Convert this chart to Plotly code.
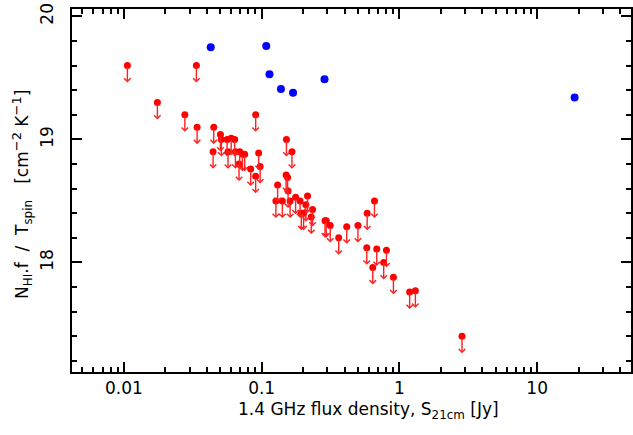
import numpy as np
import plotly.graph_objects as go

# Detections (blue)
det_flux = [0.0427, 0.108, 0.114, 0.138, 0.169, 0.286, 18.7]
det_nhi = [19.75, 19.76, 19.53, 19.41, 19.38, 19.49, 19.34]

# Upper limits (red)
lim_flux = [0.0106, 0.0175, 0.0277, 0.0336, 0.0340, 0.0449, 0.0444, 0.0502, 0.0510, 0.0561,
            0.0601, 0.0637, 0.0570, 0.0645, 0.0693, 0.0725, 0.0753, 0.0685, 0.0832, 0.0905,
            0.0951, 0.0975, 0.0905, 0.1514, 0.1659, 0.1505, 0.1542, 0.1556, 0.1306, 0.1269,
            0.1413, 0.1609, 0.1764, 0.1901, 0.2154, 0.2094, 0.1940, 0.2015, 0.2342, 0.2291,
            0.2884, 0.2943, 0.3147, 0.3625, 0.4145, 0.5000, 0.5834, 0.6594, 0.5796, 0.6847,
            0.8054, 0.7691, 0.6405, 0.9048, 1.187, 1.306, 2.847]
lim_nhi = [19.60, 19.30, 19.20, 19.60, 19.10, 19.10, 18.90, 19.04, 19.00, 19.00,
           19.01, 19.00, 18.90, 18.90, 18.90, 18.88, 18.88, 18.80, 18.76, 19.20,
           18.89, 18.78, 18.70, 19.00, 18.90, 18.71, 18.69, 18.58, 18.63, 18.50,
           18.50, 18.50, 18.53, 18.50, 18.54, 18.47, 18.40, 18.40, 18.43, 18.37,
           18.34, 18.34, 18.30, 18.20, 18.29, 18.30, 18.40, 18.50, 18.12, 18.11,
           18.10, 18.00, 17.96, 17.88, 17.76, 17.77, 17.40]

x_major = [0.01, 0.1, 1, 10]
x_major_text = ["0.01", "0.1", "1", "10"]
x_minor = [m * d for d in [0.001, 0.01, 0.1, 1, 10] for m in range(2, 10)]
y_major = [18, 19, 20]

x_title = "1.4 GHz flux density, S<sub>21cm</sub> [Jy]"
y_title = ("N<sub>HI</sub>.f  /  T<sub>spin</sub>   "
           "[cm<sup><span style='font-size:13px'>−2</span></sup> K<sup><span style='font-size:13px'>−1</span></sup>]")

font = "DejaVu Sans, Liberation Sans, sans-serif"

fig = go.Figure()
fig.add_trace(go.Scatter(x=lim_flux, y=lim_nhi, mode="markers",
                         marker=dict(color="#ff0000", size=7, line=dict(width=0)),
                         showlegend=False, hoverinfo="skip"))
fig.add_trace(go.Scatter(x=det_flux, y=det_nhi, mode="markers",
                         marker=dict(color="#0000ff", size=8, line=dict(width=0)),
                         showlegend=False, hoverinfo="skip"))

ann = []
for xv, yv in zip(lim_flux, lim_nhi):
    ann.append(dict(x=np.log10(xv), y=yv, xref="x", yref="y", text="",
                    showarrow=True, arrowhead=4, arrowsize=0.9, arrowwidth=1.4,
                    arrowcolor="#ff2020", ax=0, ay=-17, yshift=-17))

ann.append(dict(text=x_title, xref="paper", yref="paper", x=0.531, y=-0.105,
                xanchor="center", yanchor="middle", showarrow=False,
                font=dict(size=17)))
ann.append(dict(text=y_title, xref="paper", yref="paper", x=-0.0894, y=0.488,
                xanchor="center", yanchor="middle", showarrow=False, textangle=-90,
                font=dict(size=17)))

fig.update_layout(
    width=633, height=435,
    margin=dict(l=72, r=2, t=9, b=63, autoexpand=False),
    paper_bgcolor="white", plot_bgcolor="white",
    font=dict(family=font, size=17, color="black"),
    annotations=ann,
    xaxis=dict(type="log", range=[np.log10(0.0042), np.log10(48)],
               automargin=False,
               tickmode="array", tickvals=x_major, ticktext=x_major_text,
               ticks="inside", ticklen=10, tickwidth=1.5, tickcolor="black",
               minor=dict(tickmode="array", tickvals=x_minor, ticks="inside",
                          ticklen=5, tickwidth=1.5, tickcolor="black"),
               showline=True, linewidth=2, linecolor="black", mirror="ticks",
               showgrid=False, zeroline=False,
               tickfont=dict(size=17)),
    yaxis=dict(range=[17.11, 20.06], tickmode="array", tickvals=y_major,
               automargin=False, ticklabeloverflow="allow", ticklabelstandoff=10,
               ticks="inside", ticklen=10, tickwidth=1.5, tickcolor="black",
               minor=dict(dtick=0.2, ticks="inside", ticklen=5, tickwidth=1.5,
                          tickcolor="black"),
               showline=True, linewidth=2, linecolor="black", mirror="ticks",
               showgrid=False, zeroline=False, tickangle=-90,
               tickfont=dict(size=17)),
)

fig.write_html("out.html", config={"displayModeBar": False},
               post_script="document.body.style.margin='0';document.body.style.overflow='hidden';")
